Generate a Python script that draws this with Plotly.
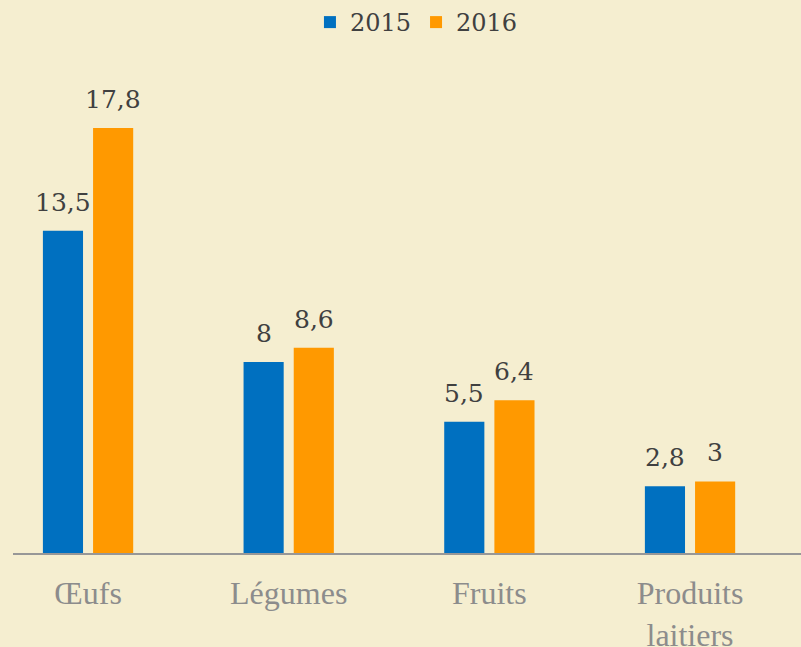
import plotly.graph_objects as go

categories = ["Œufs", "Légumes", "Fruits", "Produits<br>laitiers"]
series_names = ["2015", "2016"]
values_2015 = [13.5, 8, 5.5, 2.8]
values_2016 = [17.8, 8.6, 6.4, 3]
colors = ["#0070C0", "#FF9900"]


def fr(v):
    return f"{v:g}".replace(".", ",")


fig = go.Figure()
for name, vals, col in zip(series_names, [values_2015, values_2016], colors):
    fig.add_trace(go.Bar(
        name=name, x=categories, y=vals, marker=dict(color=col, line=dict(width=0)),
        hoverinfo="x+y",
    ))

# value labels above bars
for i, (vals, shift) in enumerate(zip([values_2015, values_2016], [-25, 25])):
    for c, v in zip(categories, vals):
        fig.add_annotation(x=c, y=v, xref="x", yref="y", text=fr(v), showarrow=False,
                           xshift=shift, yanchor="bottom", yshift=12,
                           font=dict(family="DejaVu Serif", size=25, color="#404040"))

bg = "#F5EED0"
fig.update_layout(
    width=801, height=647,
    paper_bgcolor=bg, plot_bgcolor=bg,
    margin=dict(l=13, r=0, t=60, b=94, autoexpand=False),
    barmode="group", bargap=0.5, bargroupgap=0.2,
    showlegend=True,
    legend=dict(orientation="h", x=0.512, xanchor="center", y=1.0, yanchor="top",
                yref="container", font=dict(family="DejaVu Serif", size=24, color="#404040"),
                itemwidth=30, bgcolor="rgba(0,0,0,0)"),
    xaxis=dict(range=[-0.374, 3.553], showline=True, linecolor="#979797", linewidth=2,
               ticks="outside", ticklen=11, tickcolor="rgba(0,0,0,0)", automargin=False,
               tickfont=dict(family="Liberation Serif", size=32, color="#8C8C8C"),
               showgrid=False, zeroline=False),
    yaxis=dict(range=[0, 20.65], visible=False, showgrid=False, zeroline=False,
               automargin=False),
)

fig.write_html("out.html", config={"displayModeBar": False},
               post_script="document.body.style.margin='0';")
